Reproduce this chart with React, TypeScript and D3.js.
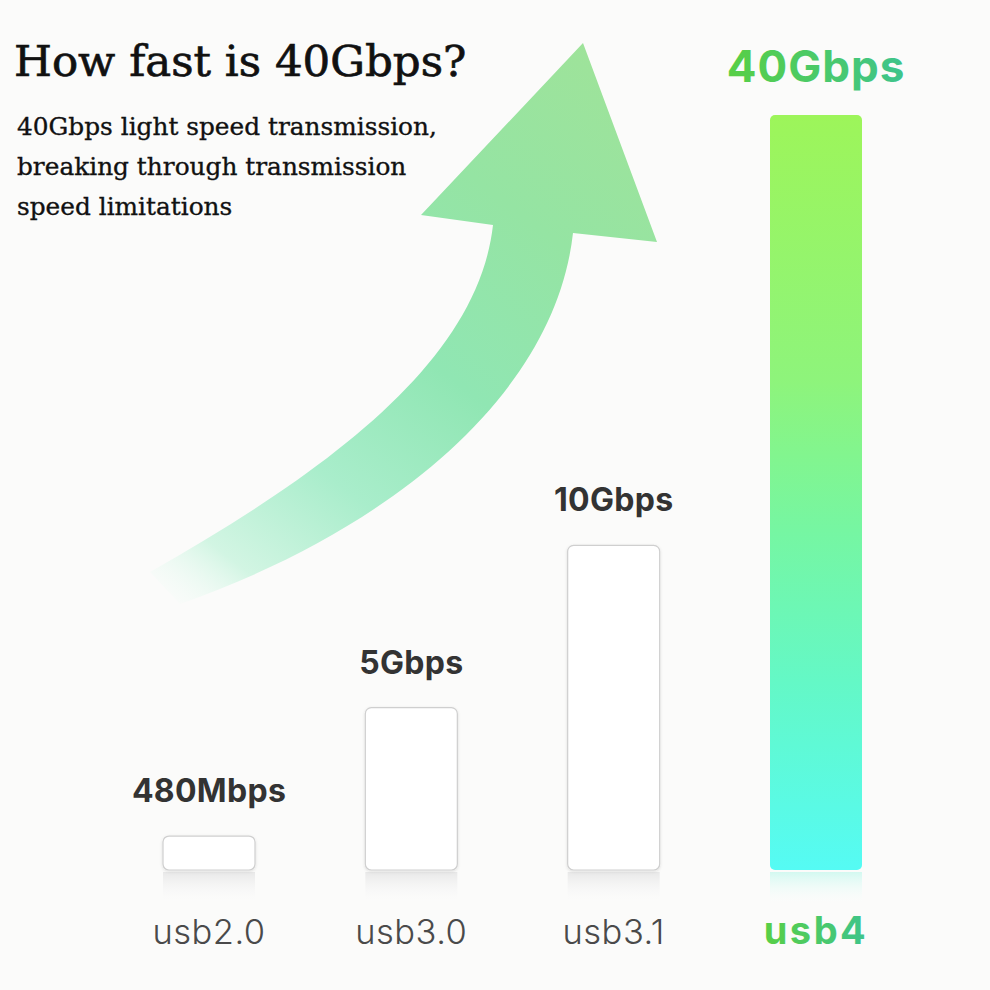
import React from "react";
import * as d3 from "d3";

const categories = ["usb2.0", "usb3.0", "usb3.1", "usb4"];
const speedLabels = ["480Mbps", "5Gbps", "10Gbps", "40Gbps"];
const speedsGbps = [0.48, 5, 10, 40];
// illustrated bar heights (relative to the usb4 bar)
const barLevels = [0.045, 0.215, 0.43, 1.0];
const titleText = "How fast is 40Gbps?";
const subtitleLines = [
  "40Gbps light speed transmission,",
  "breaking through transmission",
  "speed limitations",
];

const W = 990;
const H = 990;

export default function App() {
  const x = d3.scalePoint<string>().domain(categories).range([209, 816]);
  const y = d3.scaleLinear().domain([0, 1]).range([870, 115]);
  const barW = 92;
  const base = y(0);

  // arrow shape
  const p = d3.path();
  p.moveTo(583, 43);
  p.lineTo(657, 242);
  p.lineTo(573, 233);
  p.bezierCurveTo(555, 395, 390, 530, 180, 604);
  p.lineTo(150, 572);
  p.bezierCurveTo(330, 470, 478, 360, 493, 225);
  p.lineTo(421, 215);
  p.closePath();

  const data = categories.map((c, i) => ({
    cat: c,
    label: speedLabels[i],
    speed: speedsGbps[i],
    level: barLevels[i],
    highlight: i === categories.length - 1,
  }));

  return (
    <svg
      width={W}
      height={H}
      viewBox={`0 0 ${W} ${H}`}
      style={{ position: "absolute", left: 0, top: 0, display: "block" }}
    >
      <defs>
        <linearGradient id="arrowGrad" gradientUnits="userSpaceOnUse" x1={160} y1={592} x2={583} y2={43}>
          <stop offset="0" stopColor="#f2fcf7" stopOpacity={0.2} />
          <stop offset="0.1" stopColor="#d2f5e3" />
          <stop offset="0.28" stopColor="#a9edcb" />
          <stop offset="0.5" stopColor="#90e6b3" />
          <stop offset="0.75" stopColor="#95e4a3" />
          <stop offset="1" stopColor="#9ee39a" />
        </linearGradient>
        <linearGradient id="barGrad" x1="0" y1="0" x2="0" y2="1">
          <stop offset="0" stopColor="#9df55a" />
          <stop offset="0.35" stopColor="#8ef47b" />
          <stop offset="0.55" stopColor="#76f6a2" />
          <stop offset="0.75" stopColor="#64f8c6" />
          <stop offset="1" stopColor="#55fbf4" />
        </linearGradient>
        <linearGradient id="labelGrad" x1="0" y1="0" x2="1" y2="0">
          <stop offset="0" stopColor="#58cf45" />
          <stop offset="1" stopColor="#3ec48c" />
        </linearGradient>
        <linearGradient id="reflGray" x1="0" y1="0" x2="0" y2="1">
          <stop offset="0" stopColor="#e6e6e6" stopOpacity={0.9} />
          <stop offset="1" stopColor="#ffffff" stopOpacity={0} />
        </linearGradient>
        <linearGradient id="reflCyan" x1="0" y1="0" x2="0" y2="1">
          <stop offset="0" stopColor="#c8f8ee" stopOpacity={0.8} />
          <stop offset="1" stopColor="#ffffff" stopOpacity={0} />
        </linearGradient>
        <filter id="softShadow" x="-20%" y="-20%" width="140%" height="140%">
          <feDropShadow dx="0" dy="1" stdDeviation="1.5" floodColor="#000" floodOpacity="0.12" />
        </filter>
      </defs>

      <rect x={0} y={0} width={W} height={H} fill="#fbfbfa" />

      {/* arrow */}
      <path d={p.toString()} fill="url(#arrowGrad)" />

      {/* title */}
      <text
        x={14}
        y={76}
        fontFamily="'DejaVu Serif', serif"
        fontSize={43.5}
        fill="#111"
        stroke="#111"
        strokeWidth={0.7}
      >
        {titleText}
      </text>
      {subtitleLines.map((t, i) => (
        <text
          key={t}
          x={17}
          y={135 + i * 40}
          fontFamily="'DejaVu Serif', serif"
          fontSize={24.8}
          fill="#111"
          stroke="#111"
          strokeWidth={0.35}
        >
          {t}
        </text>
      ))}

      {/* bars */}
      {data.map((d) => {
        const cx = x(d.cat) as number;
        const top = y(d.level);
        return (
          <g key={d.cat}>
            <rect
              x={cx - barW / 2}
              y={base + 2}
              width={barW}
              height={34}
              fill={d.highlight ? "url(#reflCyan)" : "url(#reflGray)"}
            />
            {d.highlight ? (
              <rect x={cx - barW / 2} y={top} width={barW} height={base - top} rx={5} fill="url(#barGrad)" />
            ) : (
              <rect
                x={cx - barW / 2}
                y={top}
                width={barW}
                height={base - top}
                rx={6}
                fill="#ffffff"
                stroke="#cfcfcf"
                strokeWidth={1.2}
                filter="url(#softShadow)"
              />
            )}
            <text
              x={cx}
              y={d.highlight ? top - 33 : top - 34}
              textAnchor="middle"
              fontFamily="Inter, 'Noto Sans', sans-serif"
              fontWeight={700}
              fontSize={d.highlight ? 44 : 32}
              letterSpacing={d.highlight ? 1 : 0.3}
              fill={d.highlight ? "url(#labelGrad)" : "#333333"}
            >
              {d.label}
            </text>
            <text
              x={cx}
              y={944}
              textAnchor="middle"
              fontFamily="Inter, 'Noto Sans', sans-serif"
              fontWeight={d.highlight ? 700 : 300}
              fontSize={d.highlight ? 38 : 34.5}
              letterSpacing={d.highlight ? 2.5 : 0.5}
              fill={d.highlight ? "url(#labelGrad)" : "#4a4a4a"}
            >
              {d.cat}
            </text>
          </g>
        );
      })}
    </svg>
  );
}
